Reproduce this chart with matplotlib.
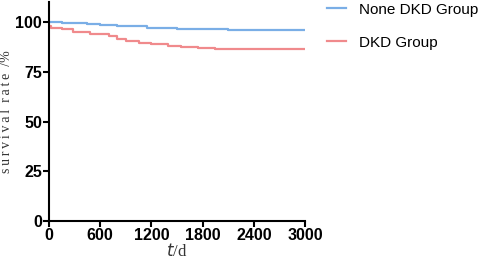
import matplotlib.pyplot as plt

# Kaplan-Meier style step data (time in days, survival %)
t_none = [0, 150, 300, 450, 600, 800, 1000, 1150, 1300, 1500, 1800, 2100, 2400, 3000]
s_none = [100, 99.6, 99.3, 99.0, 98.6, 98.2, 97.8, 97.2, 96.8, 96.5, 96.3, 96.0, 95.8, 95.8]

t_dkd = [0, 20, 150, 280, 480, 700, 800, 900, 1050, 1200, 1400, 1550, 1750, 1950, 2200, 3000]
s_dkd = [98, 96.8, 96.3, 95.0, 94.0, 93.0, 91.5, 90.5, 89.5, 88.8, 88.0, 87.3, 87.0, 86.6, 86.4, 86.4]

labels = ["None DKD Group", "DKD Group"]
xticks = [0, 600, 1200, 1800, 2400, 3000]
yticks = [0, 25, 50, 75, 100]

fig = plt.figure(figsize=(4.89, 2.62), dpi=100)
ax = fig.add_axes([0.100, 0.156, 0.524, 0.836])

ax.plot(t_none, s_none, drawstyle="steps-post", color="#7aaee6", lw=1.6, label=labels[0])
ax.plot(t_dkd, s_dkd, drawstyle="steps-post", color="#f08a8c", lw=1.6, label=labels[1])

ax.set_xlim(0, 3000)
ax.set_ylim(0, 110)
ax.set_xticks(xticks)
ax.set_yticks(yticks)
for s in ["top", "right"]:
    ax.spines[s].set_visible(False)
for s in ["left", "bottom"]:
    ax.spines[s].set_linewidth(1.5)
ax.tick_params(width=1.5, length=4, labelsize=11.5, pad=1)
for lab in ax.get_xticklabels() + ax.get_yticklabels():
    lab.set_fontweight("bold")
    lab.set_family("Liberation Sans")

# spaced-out serif label like the original
ylab = "\u2009".join("survival") + "  " + "\u2009".join("rate") + "  /%"
ax.set_ylabel(ylab, family=["Liberation Serif", "DejaVu Serif"], fontsize=10, color="#333333")
ax.yaxis.set_label_coords(-0.14, 0.5)
ax.set_xlabel("$t$/d", family="Liberation Serif", fontsize=12, color="#333333", labelpad=0)

leg = ax.legend(loc="upper left", bbox_to_anchor=(1.03, 1.06), frameon=False,
                handlelength=1.3, handletextpad=0.85, labelspacing=1.25,
                prop={"family": "Liberation Sans", "size": 11})

fig.savefig("out.png", dpi=100)
